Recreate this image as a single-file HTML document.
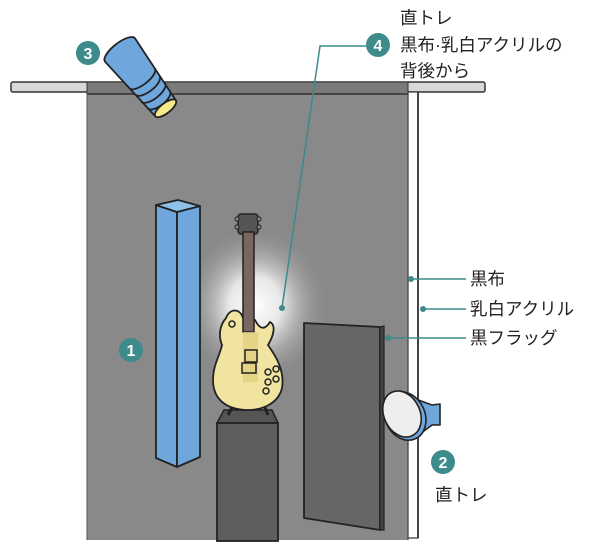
<!DOCTYPE html>
<html><head><meta charset="utf-8"><style>
html,body{margin:0;padding:0;background:#fff;width:600px;height:557px;overflow:hidden}
text{font-family:"Liberation Sans","Noto Sans CJK JP",sans-serif}
</style></head><body>
<svg width="600" height="557" viewBox="0 0 600 557" xmlns="http://www.w3.org/2000/svg">
<defs>
<radialGradient id="glow" cx="0.5" cy="0.5" r="0.5">
<stop offset="0" stop-color="#fff" stop-opacity="1"/>
<stop offset="0.35" stop-color="#f2f2f2" stop-opacity="0.9"/>
<stop offset="1" stop-color="#888" stop-opacity="0"/>
</radialGradient>
</defs>
<rect x="11" y="82" width="474" height="10" rx="2" fill="#d8d8d8" stroke="#333" stroke-width="1.5"/>
<rect x="408" y="92" width="10" height="446" fill="#fff" stroke="#333" stroke-width="1.2"/>
<line x1="418" y1="92" x2="418" y2="538" stroke="#444" stroke-width="2"/>
<rect x="87" y="92" width="321" height="448" fill="#898989"/>
<rect x="87" y="82" width="321" height="12" fill="#7a7a7a" stroke="#333" stroke-width="1"/>
<line x1="87" y1="94" x2="408" y2="94" stroke="#333" stroke-width="1.5"/>
<line x1="87" y1="94" x2="87" y2="540" stroke="#555" stroke-width="1"/>
<line x1="408" y1="94" x2="408" y2="540" stroke="#333" stroke-width="1"/>
<ellipse cx="255" cy="305" rx="75" ry="80" fill="url(#glow)"/>
<polygon points="156,205 177,212 177,467 156,458" fill="#6fa6dc" stroke="#222" stroke-width="1.8" stroke-linejoin="round"/>
<polygon points="177,212 200,206 200,457 177,467" fill="#6fa6dc" stroke="#222" stroke-width="1.8" stroke-linejoin="round"/>
<polygon points="156,205 178,200 200,206 177,212" fill="#8ec0ea" stroke="#222" stroke-width="1.8" stroke-linejoin="round"/>
<polygon points="217,423 224,410 272,410 278,423" fill="#555" stroke="#222" stroke-width="1.5"/>
<rect x="217" y="423" width="61" height="118" fill="#5e5e5e" stroke="#222" stroke-width="1.8"/>
<line x1="228" y1="415" x2="236" y2="400" stroke="#222" stroke-width="3"/>
<line x1="268" y1="415" x2="262" y2="400" stroke="#222" stroke-width="3"/>
<rect x="238" y="214" width="20" height="20" rx="3" fill="#555" stroke="#222" stroke-width="1.5"/>
<circle cx="237" cy="219" r="2" fill="#888" stroke="#222"/><circle cx="237" cy="227" r="2" fill="#888" stroke="#222"/>
<circle cx="259" cy="219" r="2" fill="#888" stroke="#222"/><circle cx="259" cy="227" r="2" fill="#888" stroke="#222"/>
<path d="M226,318 C230,308 240,308 243,318 L255,320 C260,330 265,330 270,322 C276,325 274,335 268,345 C275,355 285,370 282,388 C278,405 260,410 248,410 C230,410 213,402 213,380 C213,365 220,355 222,345 C218,335 220,325 226,318 Z" fill="#f1e3a0" stroke="#222" stroke-width="1.8"/>
<rect x="243" y="232" width="11" height="100" fill="#7a6660" stroke="#222" stroke-width="1.5"/>
<rect x="243" y="332" width="15" height="50" fill="#e2cf80" opacity="0.8"/>
<rect x="245" y="350" width="12" height="12" fill="none" stroke="#222" stroke-width="1.5"/>
<rect x="242" y="363" width="14" height="10" fill="none" stroke="#222" stroke-width="1.5"/>
<circle cx="232" cy="324" r="3" fill="none" stroke="#222" stroke-width="1.5"/>
<circle cx="268" cy="372" r="3" fill="none" stroke="#222" stroke-width="1.5"/>
<circle cx="276" cy="369" r="3" fill="none" stroke="#222" stroke-width="1.5"/>
<circle cx="268" cy="382" r="3" fill="none" stroke="#222" stroke-width="1.5"/>
<circle cx="276" cy="379" r="3" fill="none" stroke="#222" stroke-width="1.5"/>
<circle cx="266" cy="391" r="3" fill="none" stroke="#222" stroke-width="1.5"/>
<polygon points="304,323 380,327 380,530 304,518" fill="#666" stroke="#222" stroke-width="1.8" stroke-linejoin="round"/>
<polygon points="380,327 384,326 384,530 380,530" fill="#444" stroke="#222" stroke-width="1.2"/>
<path d="M410,397 L432,405 L440,404 L440,425 L432,425 L412,440 Z" fill="#6fa6dc" stroke="#222" stroke-width="1.6" stroke-linejoin="round"/>
<ellipse cx="405" cy="416" rx="20" ry="25" transform="rotate(-25 405 416)" fill="#6fa6dc" stroke="#222" stroke-width="1.6"/>
<ellipse cx="402" cy="414" rx="18" ry="24" transform="rotate(-25 402 414)" fill="#eee" stroke="#222" stroke-width="1.6"/>
<g transform="translate(120,50) rotate(52)">
<path d="M0,-19 L74,-13 L74,13 L0,19 A7,19 0 0 1 0,-19 Z" fill="#6fa6dc" stroke="#222" stroke-width="1.8" stroke-linejoin="round"/>
<path d="M36,-16 A6,16 0 0 1 36,16" fill="none" stroke="#222" stroke-width="1.8"/>
<path d="M45,-15 A6,15 0 0 1 45,15" fill="none" stroke="#222" stroke-width="1.8"/>
<path d="M54,-15 A6,15 0 0 1 54,15" fill="none" stroke="#222" stroke-width="1.8"/>
<path d="M63,-14 A6,14 0 0 1 63,14" fill="none" stroke="#222" stroke-width="1.8"/>
<ellipse cx="74" cy="0" rx="5" ry="13" fill="#f6eb8a" stroke="#222" stroke-width="1.8"/>
</g>
<g stroke="#3d8b8b" stroke-width="1.5" fill="none">
<polyline points="366,46 320,46 282,308"/>
<line x1="411" y1="279" x2="466" y2="279"/>
<line x1="423" y1="309" x2="466" y2="309"/>
<line x1="388" y1="338" x2="466" y2="338"/>
</g>
<g fill="#3d8b8b">
<circle cx="282" cy="308" r="3"/><circle cx="411" cy="279" r="3"/><circle cx="423" cy="309" r="3"/><circle cx="388" cy="338" r="3"/>
<circle cx="378" cy="45" r="12"/><circle cx="88" cy="53" r="12"/><circle cx="131" cy="350" r="12"/><circle cx="443" cy="462" r="12"/>
</g>
<g fill="#fff" font-size="16" font-weight="bold" text-anchor="middle">
<text x="378" y="51">4</text><text x="88" y="59">3</text><text x="131" y="356">1</text><text x="443" y="468">2</text>
</g>
<g fill="#222" font-size="17.5">
<text x="400" y="24">直トレ</text>
<text x="400" y="51">黒布·乳白アクリルの</text>
<text x="400" y="77">背後から</text>
<text x="470" y="285">黒布</text>
<text x="470" y="315">乳白アクリル</text>
<text x="470" y="344">黒フラッグ</text>
<text x="435" y="501">直トレ</text>
</g>
</svg>
</body></html>
